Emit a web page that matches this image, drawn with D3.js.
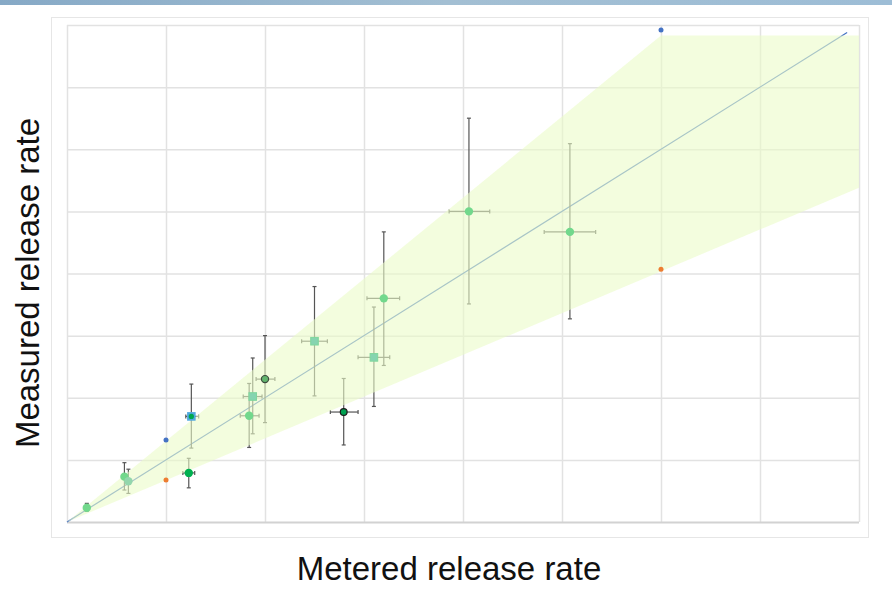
<!DOCTYPE html>
<html>
<head>
<meta charset="utf-8">
<script src="https://cdn.jsdelivr.net/npm/d3@7/dist/d3.min.js"></script>
<style>
  html, body { margin: 0; padding: 0; background: #fff; }
  svg { display: block; }
</style>
</head>
<body>
<svg id="chart" width="892" height="598"></svg>
<script>
// ---- data ----
const xTicks = [0, 1, 2, 3, 4, 5, 6, 7, 8];
const yTicks = [0, 1, 2, 3, 4, 5, 6, 7, 8];
const xTitle = "Metered release rate";
const yTitle = "Measured release rate";

// measurement points: metered (x), measured (y) with error ranges
const ptX    = [0.20, 0.58, 0.62, 1.23, 1.256, 1.84, 1.876, 2.00, 2.50, 2.795, 3.10, 3.20, 4.06, 5.08];
const ptY    = [0.23, 0.73, 0.655, 0.79, 1.70, 1.71, 2.02, 2.30, 2.91, 1.77, 2.65, 3.60, 5.00, 4.67];
const ptXLo  = [0.20, 0.58, 0.62, 1.17, 1.20, 1.75, 1.78, 1.91, 2.37, 2.66, 2.94, 3.03, 3.86, 4.82];
const ptXHi  = [0.20, 0.58, 0.62, 1.29, 1.33, 1.94, 1.97, 2.10, 2.63, 2.94, 3.26, 3.36, 4.27, 5.34];
const ptYLo  = [0.17, 0.515, 0.46, 0.55, 1.19, 1.20, 1.42, 1.60, 2.03, 1.24, 1.86, 2.52, 3.51, 3.27];
const ptYHi  = [0.30, 0.955, 0.85, 1.025, 2.22, 2.23, 2.64, 3.00, 3.79, 2.31, 3.46, 4.67, 6.50, 6.09];
const ptKind = ["circle", "circle", "circleLight", "dark", "blueSquare", "circle", "square", "outlined", "square", "darkOutlined", "square", "circle", "circle", "circle"];

// band limits (upper / lower), and reference markers
const bandUpper = [[0, 0], [6, 7.83], [8, 7.83]];
const bandLower = [[8, 5.38], [0, 0]];
const idLine = [[0, 0], [7.88, 7.88]];
const upperMarks = [[1, 1.32], [6, 7.92]];
const lowerMarks = [[1, 0.676], [6, 4.07]];

// ---- drawing ----
const svg = d3.select("#chart");

// top header strip
const defs = svg.append("defs");
const grad = defs.append("linearGradient").attr("id", "hdr").attr("x1", "0").attr("x2", "1");
grad.append("stop").attr("offset", "0").attr("stop-color", "#86a9c6");
grad.append("stop").attr("offset", "0.5").attr("stop-color", "#a3bfd3");
grad.append("stop").attr("offset", "1").attr("stop-color", "#9dbdd6");
svg.append("rect").attr("x", 0).attr("y", 0).attr("width", 892).attr("height", 5).attr("fill", "url(#hdr)");

// outer frame
svg.append("rect").attr("x", 51.5).attr("y", 17.5).attr("width", 817).attr("height", 520)
  .attr("fill", "none").attr("stroke", "#e6e6e6").attr("stroke-width", 1);

const x = d3.scaleLinear().domain([0, 8]).range([67, 859]);
const y = d3.scaleLinear().domain([0, 8]).range([522, 25]);

// gridlines
const gx = svg.append("g").attr("transform", `translate(0,${y(0)})`)
  .call(d3.axisBottom(x).tickValues(xTicks).tickSize(-(y(0) - y(8))).tickFormat(""));
gx.select(".domain").remove();
gx.selectAll(".tick line").attr("stroke", "#e2e2e2").attr("stroke-width", 1.5);

const gy = svg.append("g").attr("transform", `translate(${x(0)},0)`)
  .call(d3.axisLeft(y).tickValues(yTicks).tickSize(-(x(8) - x(0))).tickFormat(""));
gy.select(".domain").remove();
gy.selectAll(".tick line").attr("stroke", "#e2e2e2").attr("stroke-width", 1.5);
gy.selectAll(".tick").filter(d => d === 0).select("line").attr("stroke", "#d2d2d2").attr("stroke-width", 2);

// 1:1 line
const line = d3.line().x(d => x(d[0])).y(d => y(d[1]));
svg.append("path").attr("d", line(idLine)).attr("fill", "none")
  .attr("stroke", "#4472c4").attr("stroke-width", 1.2);

// error bars
const eb = svg.append("g").attr("stroke", "#555").attr("stroke-width", 1.2).attr("fill", "none");
ptX.forEach((xv, i) => {
  const cx = x(xv), cy = y(ptY[i]);
  const y1 = y(ptYHi[i]), y2 = y(ptYLo[i]);
  eb.append("line").attr("x1", cx).attr("x2", cx).attr("y1", y1).attr("y2", y2);
  eb.append("line").attr("x1", cx - 2).attr("x2", cx + 2).attr("y1", y1).attr("y2", y1);
  eb.append("line").attr("x1", cx - 2).attr("x2", cx + 2).attr("y1", y2).attr("y2", y2);
  if (ptXHi[i] > ptXLo[i]) {
    const x1 = x(ptXLo[i]), x2 = x(ptXHi[i]);
    eb.append("line").attr("x1", x1).attr("x2", x2).attr("y1", cy).attr("y2", cy);
    eb.append("line").attr("x1", x1).attr("x2", x1).attr("y1", cy - 2).attr("y2", cy + 2);
    eb.append("line").attr("x1", x2).attr("x2", x2).attr("y1", cy - 2).attr("y2", cy + 2);
  }
});

// band (drawn over the line and error bars)
svg.append("path").attr("d", line(bandUpper.concat(bandLower)) + "Z")
  .attr("fill", "rgb(235,252,200)").attr("fill-opacity", 0.6);

// reference markers
svg.append("g").selectAll("circle").data(upperMarks).join("circle")
  .attr("cx", d => x(d[0])).attr("cy", d => y(d[1])).attr("r", 2.5).attr("fill", "#4472c4");
svg.append("g").selectAll("circle").data(lowerMarks).join("circle")
  .attr("cx", d => x(d[0])).attr("cy", d => y(d[1])).attr("r", 2.5).attr("fill", "#ed7d31");

// points
const pg = svg.append("g");
ptX.forEach((xv, i) => {
  const cx = x(xv), cy = y(ptY[i]);
  const k = ptKind[i];
  if (k === "square" || k === "blueSquare") {
    pg.append("rect").attr("x", cx - 3.8).attr("y", cy - 3.8).attr("width", 7.6).attr("height", 7.6)
      .attr("fill", k === "blueSquare" ? "#4ea6dc" : "#86d4b0")
      .attr("stroke", k === "blueSquare" ? "#5aaee0" : "#7fd79c").attr("stroke-width", 1);
    if (k === "blueSquare") {
      pg.append("circle").attr("cx", cx).attr("cy", cy).attr("r", 2.6).attr("fill", "#00a84f");
    }
  } else {
    let fill = "#72d88c", stroke = "none", r = 4.2;
    if (k === "circleLight") fill = "#93d6ac";
    if (k === "dark") fill = "#00b050";
    if (k === "outlined") { fill = "#62b56e"; stroke = "#3d4a3d"; r = 3.6; }
    if (k === "darkOutlined") { fill = "#00a050"; stroke = "#1a1a1a"; r = 3.4; }
    pg.append("circle").attr("cx", cx).attr("cy", cy).attr("r", r)
      .attr("fill", fill).attr("stroke", stroke).attr("stroke-width", 1.2);
  }
});

// axis titles
svg.append("text").attr("x", 449).attr("y", 580).attr("text-anchor", "middle")
  .attr("font-family", "Liberation Sans, Arial, sans-serif").attr("font-size", 33).attr("fill", "#111")
  .text(xTitle);
svg.append("text").attr("transform", "translate(39,283) rotate(-90)").attr("text-anchor", "middle")
  .attr("font-family", "Liberation Sans, Arial, sans-serif").attr("font-size", 33).attr("fill", "#111")
  .text(yTitle);
</script>
</body>
</html>
